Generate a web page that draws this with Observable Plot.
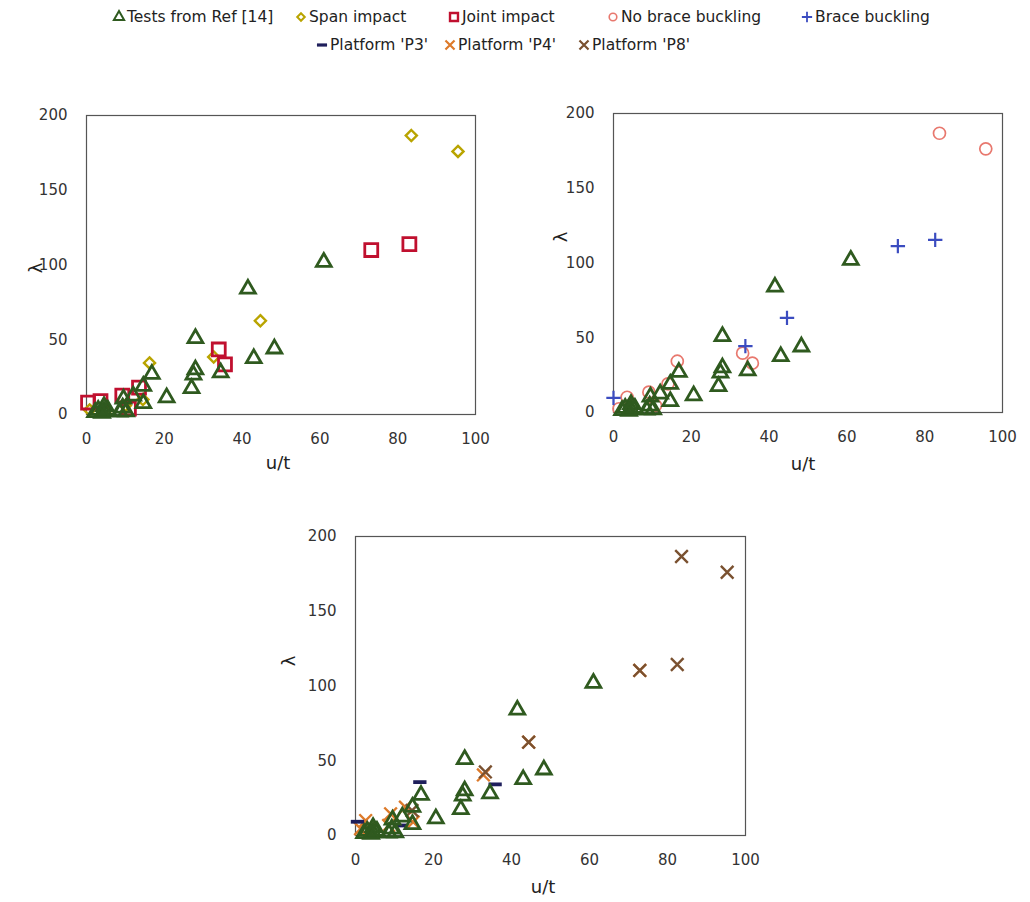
<!DOCTYPE html>
<html><head><meta charset="utf-8">
<script src="https://cdn.jsdelivr.net/npm/d3@7"></script>
<script src="https://cdn.jsdelivr.net/npm/@observablehq/plot@0.6"></script>
<style>
body{margin:0;background:#fff;}
#root{position:relative;width:1030px;height:902px;overflow:hidden;background:#fff;}
.panel{position:absolute;}
.leg{position:absolute;font-family:"DejaVu Sans",sans-serif;font-size:15.5px;color:#222;white-space:nowrap;line-height:18px;}
.leg svg{position:absolute;left:-13px;top:4px;overflow:visible}
.lab{position:absolute;font-family:"DejaVu Sans",sans-serif;font-size:18px;color:#222;transform:translate(-50%,-50%);white-space:nowrap}
</style></head><body><div id="root"></div><script>
// ---- data (u/t, lambda) ----
const testsRef14 = [[61,102],[41.5,84],[28,51],[48.3,44],[43,37.5],[34.5,28],[28,30],[27.5,26.5],[27,17.5],[20.6,11.3],[16.8,27],[14.6,19],[14.6,7.5],[12,12.5],[9.5,10.5],[9.3,4.5],[10.2,2],[4.5,5.5],[4.5,2.2],[3,3],[2.2,1.5],[5.5,3],[8.5,1.8],[4,1]];
const spanImpact = [[83.5,186.6],[95.5,176],[44.7,62.7],[16.2,34.5],[32.7,38.5],[0.8,3],[5,2.5],[10,6],[14.5,10]];
const jointImpact = [[73.2,110],[83,114],[34,43.5],[35.6,33.5],[0.4,8],[3.6,9],[9.2,12.7],[13.5,18],[10.9,4]];
const noBraceBuckling = [[83.8,186.8],[95.7,176.4],[16.4,34.3],[33.2,39.7],[35.7,33],[14,19.2],[9.1,13.6],[3.5,10.2],[1.4,2.5],[10.8,4.7],[4.5,5]];
const braceBuckling = [[73.1,111.3],[82.7,115.5],[44.6,63.3],[33.9,44.4],[0,9.8]];
const platformP3 = [[0.5,9.2],[16.5,35.7],[35.8,34.2],[11.5,6.7]];
const platformP4 = [[2.6,10],[3.4,4.5],[9,14.5],[8.5,6.7],[12.8,19],[1.3,4.5],[32.8,40.5],[44.4,62.4],[72.9,110.4],[14.8,9]];
const platformP8 = [[83.6,186.6],[95.3,176.1],[82.5,114.4],[72.9,110.4],[44.4,62.4],[33.3,42.5],[14.5,16.7]];
const xTicks = [0,20,40,60,80,100];
const yTicks = [0,50,100,150,200];
const legendRow1 = ["Tests from Ref [14]","Span impact","Joint impact","No brace buckling","Brace buckling"];
const legendRow2 = ["Platform 'P3'","Platform 'P4'","Platform 'P8'"];

const C = {tri:"#2f5a1f", dia:"#b9a400", sq:"#c0102f", circ:"#e8786e", plus:"#3b4cc0", p3:"#1f1f5c", p4:"#dd7a2a", p8:"#7a5130"};
const dash = {draw(ctx, size){const w=Math.sqrt(size)*0.75; ctx.moveTo(-w,0); ctx.lineTo(w,0);}};

const root = document.getElementById("root");

function dots(data, symbol, stroke, r, sw){
  return Plot.dot(data, {x:d=>d[0], y:d=>d[1], symbol, stroke, r, strokeWidth:sw, fill:"none"});
}
const triMark = () => dots(testsRef14, "triangle", C.tri, 5.5, 2.8);

function panel(pos, marks){
  const svg = Plot.plot({
    width:pos.w, height:pos.h,
    marginLeft:pos.ml, marginRight:pos.mr, marginTop:pos.mt, marginBottom:pos.mb,
    x:{domain:[0,100]}, y:{domain:[0,200]},
    style:{fontFamily:"DejaVu Sans", fontSize:"15px", color:"#333", background:"transparent", overflow:"visible"},
    marks:[
      Plot.frame({stroke:"#555", strokeWidth:1.2}),
      Plot.axisX({ticks:xTicks, tickSize:0, tickPadding:19, label:null, fontSize:15}),
      Plot.axisY({ticks:yTicks, tickSize:0, tickPadding:19, label:null, fontSize:15}),
      ...marks
    ]
  });
  const div = document.createElement("div");
  div.className="panel"; div.style.left=pos.x+"px"; div.style.top=pos.y+"px";
  div.appendChild(svg); root.appendChild(div);
}

panel({x:0,y:80,w:500,h:400,ml:86,mr:25,mt:35,mb:66},[
  dots(spanImpact,"diamond2",C.dia,5,2.4),
  dots(jointImpact,"square",C.sq,7.3,2.8),
  triMark()
]);
panel({x:520,y:78,w:510,h:400,ml:93,mr:28,mt:35,mb:66},[
  dots(noBraceBuckling,"circle",C.circ,6,1.7),
  dots(braceBuckling,"plus",C.plus,4.7,2.2),
  triMark()
]);
panel({x:270,y:500,w:500,h:400,ml:85,mr:25,mt:36,mb:65},[
  dots(platformP4,"times",C.p4,5.8,2.4),
  dots(platformP8,"times",C.p8,5.8,2.4),
  dots(platformP3,dash,C.p3,5,3.8),
  triMark()
]);

// axis titles
function lab(text,x,y,rot){const d=document.createElement("div");d.className="lab";d.textContent=text;d.style.left=x+"px";d.style.top=y+"px";if(rot)d.style.transform="translate(-50%,-50%) rotate(-90deg)";root.appendChild(d);}
lab("u/t",278,462); lab("u/t",803,463); lab("u/t",543,886);
lab("λ",35,268,true); lab("λ",560,237,true); lab("λ",288,661,true);

// legend
function legSym(symbol, color, sw, r){
  const s = d3.create("svg").attr("width",10).attr("height",10);
  const p = d3.symbol(symbol, Math.PI*r*r)();
  s.append("path").attr("d",p).attr("transform","translate(5,5)").attr("fill","none").attr("stroke",color).attr("stroke-width",sw);
  return s.node();
}
const legItems = [
  [legendRow1[0],127,8,d3.symbolTriangle,C.tri,2,3.8],
  [legendRow1[1],309,8,d3.symbolDiamond2,C.dia,2,3.4],
  [legendRow1[2],462,8,d3.symbolSquare,C.sq,2.4,4.5],
  [legendRow1[3],621,8,d3.symbolCircle,C.circ,1.6,3.8],
  [legendRow1[4],815,8,d3.symbolPlus,C.plus,1.8,3.4],
  [legendRow2[0],330,36,dash,C.p3,3.2,3.8],
  [legendRow2[1],458,36,d3.symbolTimes,C.p4,2.2,4.2],
  [legendRow2[2],592,36,d3.symbolTimes,C.p8,2.2,4.2]
];
for(const [t,x,y,sym,col,sw,r] of legItems){
  const d=document.createElement("div");d.className="leg";d.style.left=x+"px";d.style.top=y+"px";
  d.appendChild(legSym(sym,col,sw,r));
  d.appendChild(document.createTextNode(t));
  root.appendChild(d);
}
</script></body></html>
